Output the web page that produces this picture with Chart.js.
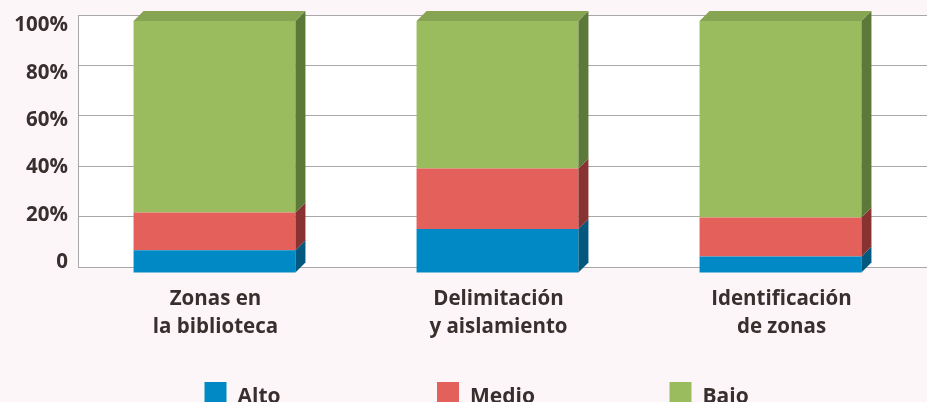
<!DOCTYPE html>
<html><head><meta charset="utf-8">
<script src="https://cdn.jsdelivr.net/npm/chart.js@4/dist/chart.umd.min.js"></script>
<style>html,body{margin:0;padding:0;background:#fdf6f8;overflow:hidden}canvas{display:block}</style>
</head><body>
<canvas id="c" width="927" height="402"></canvas>
<script>
// ---- data ----
const categories = [['Zonas en', 'la biblioteca'], ['Delimitación', 'y aislamiento'], ['Identificación', 'de zonas']];
const seriesNames = ['Alto', 'Medio', 'Bajo'];
const alto = [9, 17.5, 6.5];
const medio = [15, 24, 15.5];
const bajo = [76, 58.5, 78];
const yTickValues = [0, 20, 40, 60, 80, 100];
const yTickLabels = ['0', '20%', '40%', '60%', '80%', '100%'];

// ---- style ----
const frontColors = ['#0089c4', '#e4605b', '#9bbb5f'];
const sideColors = ['#03587f', '#883331', '#5d7939'];
const topColor = '#86a452';
const textColor = '#38302f';
const gridColor = '#a8a8a8';
const bgColor = '#fdf6f8';
const FONT = '"Open Sans", sans-serif';
const D = 10;

const threeD = {
  id: 'threeD',
  beforeDraw(chart) {
    const { ctx, chartArea: a } = chart;
    ctx.save();
    ctx.fillStyle = bgColor;
    ctx.fillRect(0, 0, chart.width, chart.height);
    ctx.fillStyle = '#ffffff';
    ctx.fillRect(a.left, a.top, a.right - a.left, a.bottom - a.top);
    ctx.restore();
  },
  beforeDatasetsDraw(chart) {
    chart.ctx.save();
    chart.ctx.translate(-D / 2, D / 2 + 1);
  },
  afterDatasetsDraw(chart) {
    const ctx = chart.ctx;
    const n = chart.data.datasets.length;
    chart.data.datasets.forEach((ds, i) => {
      const meta = chart.getDatasetMeta(i);
      meta.data.forEach(el => {
        const p = el.getProps(['x', 'y', 'base', 'width'], true);
        const l = p.x - p.width / 2, r = p.x + p.width / 2;
        const t = Math.min(p.y, p.base), b = Math.max(p.y, p.base);
        ctx.fillStyle = sideColors[i];
        ctx.beginPath();
        ctx.moveTo(r, t); ctx.lineTo(r + D, t - D); ctx.lineTo(r + D, b - D); ctx.lineTo(r, b);
        ctx.closePath(); ctx.fill();
        if (i === n - 1) {
          ctx.fillStyle = topColor;
          ctx.beginPath();
          ctx.moveTo(l, t); ctx.lineTo(l + D, t - D); ctx.lineTo(r + D, t - D); ctx.lineTo(r, t);
          ctx.closePath(); ctx.fill();
        }
      });
    });
    ctx.restore();
  },
  afterDraw(chart) {
    const ctx = chart.ctx;
    ctx.save();
    ctx.font = 'bold 21px ' + FONT;
    ctx.textBaseline = 'alphabetic';
    ctx.textAlign = 'left';
    chart.data.datasets.forEach((ds, i) => {
      const sx = 437 + (i - 1) * 232.5;
      ctx.fillStyle = ds.backgroundColor;
      ctx.fillRect(sx, 382, 22, 22);
      ctx.fillStyle = textColor;
      ctx.fillText(ds.label, sx + 33, 403);
    });
    ctx.restore();
  }
};

const seriesValues = [alto, medio, bajo];
new Chart(document.getElementById('c'), {
  type: 'bar',
  data: {
    labels: categories,
    datasets: seriesNames.map((name, i) => ({
      label: name,
      data: seriesValues[i],
      backgroundColor: frontColors[i],
      borderWidth: 0,
      clip: false,
      barPercentage: 0.572,
      categoryPercentage: 1
    }))
  },
  options: {
    responsive: false,
    animation: false,
    layout: { padding: { top: 15, left: 0, right: 0, bottom: 0 } },
    plugins: { legend: { display: false }, tooltip: { enabled: false } },
    scales: {
      x: {
        stacked: true,
        grid: { display: false, drawTicks: false },
        border: { display: false },
        ticks: {
          color: textColor,
          font: { family: FONT, size: 20.5, weight: 'bold', lineHeight: 1.36 },
          padding: 18,
          labelOffset: -4,
          maxRotation: 0,
          autoSkip: false
        },
        afterFit(s) { s.height = 135; s.paddingLeft = 0; s.paddingRight = 0; }
      },
      y: {
        stacked: true,
        position: 'left',
        weight: 0,
        min: 0,
        max: 100,
        ticks: { display: false, stepSize: 20 },
        grid: { color: gridColor, lineWidth: 1, drawTicks: false },
        border: { display: true, color: gridColor, width: 1 },
        afterFit(s) { s.width = 0; s.paddingTop = 0; s.paddingBottom = 0; }
      },
      yl: {
        position: 'left',
        weight: 1,
        min: -2.0,
        max: 104.5,
        grid: { display: false, drawTicks: false },
        border: { display: false },
        afterBuildTicks(s) { s.ticks = yTickValues.map(v => ({ value: v })); },
        ticks: {
          color: textColor,
          font: { family: FONT, size: 20.5, weight: 'bold' },
          padding: 10,
          callback: (v, i) => yTickLabels[i]
        },
        afterFit(s) { s.width = 78; s.paddingTop = 0; s.paddingBottom = 0; }
      }
    }
  },
  plugins: [threeD]
});
</script>
</body></html>
